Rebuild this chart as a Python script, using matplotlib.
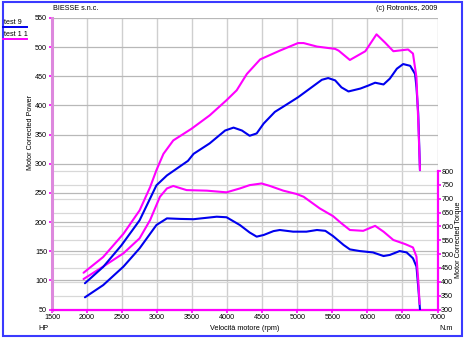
import matplotlib
matplotlib.use("Agg")
import matplotlib.pyplot as plt
from matplotlib.lines import Line2D
from matplotlib.patches import Rectangle

plt.rcParams['font.family'] = ['Liberation Sans', 'DejaVu Sans']

# ---- data -------------------------------------------------------------
rpm_power_t9 = [1970, 2230, 2490, 2750, 2990, 3140, 3260, 3440, 3520, 3750, 3970,
                4090, 4210, 4320, 4420, 4520, 4680, 4800, 5010, 5180, 5350, 5440,
                5540, 5630, 5730, 5900, 6010, 6110, 6230, 6320, 6420, 6510, 6610,
                6680, 6700, 6725, 6750]
power_t9 = [95, 123, 160, 203, 263, 280, 290, 305, 317, 335, 357,
            362, 357, 348, 352, 369, 389, 398, 414, 429, 444, 447,
            443, 431, 424, 429, 434, 439, 436, 446, 463, 471, 468,
            454, 431, 386, 289]

rpm_power_t11 = [1950, 2230, 2520, 2750, 2900, 2990, 3090, 3230, 3490, 3750, 3990,
                 4135, 4280, 4470, 4750, 5010, 5090, 5280, 5540, 5590, 5750, 5970,
                 6130, 6250, 6370, 6580, 6650, 6700, 6725, 6750]
power_t11 = [113, 140, 180, 220, 260, 289, 317, 340, 360, 383, 409,
             426, 454, 479, 494, 507, 507, 501, 497, 494, 478, 493,
             522, 508, 493, 496, 489, 448, 374, 289]

rpm_torque_t9 = [1970, 2230, 2520, 2750, 2990, 3140, 3330, 3520, 3850, 3990, 4180,
                 4320, 4420, 4520, 4660, 4750, 4940, 5130, 5280, 5400, 5510, 5660,
                 5750, 5890, 6080, 6230, 6320, 6460, 6560, 6650, 6700, 6725, 6750]
torque_t9 = [344, 388, 455, 521, 605, 629, 627, 626, 635, 633, 605,
             578, 563, 569, 583, 587, 581, 581, 587, 584, 565, 533,
             517, 511, 506, 493, 497, 511, 506, 485, 455, 382, 300]

rpm_torque_t11 = [1950, 2230, 2520, 2750, 2900, 3040, 3140, 3230, 3420, 3710, 3990,
                  4180, 4320, 4490, 4610, 4800, 4990, 5090, 5320, 5510, 5630, 5750,
                  5940, 6110, 6230, 6370, 6540, 6650, 6700, 6725, 6745]
torque_t11 = [410, 455, 503, 557, 623, 707, 737, 746, 731, 729, 723,
              737, 749, 755, 746, 729, 717, 707, 665, 637, 611, 587,
              584, 602, 581, 551, 536, 524, 491, 406, 320]

rpm_ticks = list(range(1500, 7001, 500))
hp_ticks = list(range(50, 551, 50))
nm_ticks = list(range(300, 801, 50))

series_names = ["test 9", "test 1 1"]
series_colors = ["#0000ee", "#ff00ff"]

title_left = "BIESSE s.n.c."
title_right = "(c) Rotronics, 2009"
x_label = "Velocità motore (rpm)"
y_label_left = "Motor Corrected Power"
y_label_right = "Motor Corrected Torque"

# ---- layout -------------------------------------------------------------
W, H = 465, 340
fig = plt.figure(figsize=(W / 100, H / 100), dpi=100)
fig.patch.set_facecolor("white")


def fx(px):
    return px / W


def fy(py):
    return 1 - py / H


x0, x1, ytop, ybot = 52, 437.5, 18, 309.5
ax = fig.add_axes([fx(x0), fy(ybot), fx(x1) - fx(x0), (ybot - ytop) / H])
ax2 = ax.twinx()

ax.set_xlim(1500, 7000)
ax.set_ylim(50, 550)
# torque scale occupies the lower part of the plot: 300..800 N.m
nm_top = 300 + 500 * (ybot - ytop) / (ybot - 171)
ax2.set_ylim(300, nm_top)

# grid
for r in rpm_ticks:
    ax.axvline(r, color="#cfcfcf", lw=1.0, zorder=0)
for h in hp_ticks:
    ax.axhline(h, color="#b8b8b8", lw=0.9, zorder=0)
for t in nm_ticks:
    ax.plot([1500, 7000], [t, t], transform=ax2.transData,
            color="#d8d8d8", lw=0.9, zorder=0, clip_on=False)

# curves
lw = 1.5
style = dict(lw=lw, zorder=3, solid_joinstyle="round", solid_capstyle="round")
ax.plot(rpm_torque_t9, torque_t9, color=series_colors[0],
        transform=ax2.transData, **style)
ax.plot(rpm_torque_t11, torque_t11, color=series_colors[1],
        transform=ax2.transData, **style)
ax.plot(rpm_power_t9, power_t9, color=series_colors[0], **style)
ax.plot(rpm_power_t11, power_t11, color=series_colors[1], **style)

# spines
for s in ["top", "right"]:
    ax.spines[s].set_visible(False)
ax.spines["left"].set_color("#dd88dd")
ax.spines["left"].set_linewidth(2.2)
ax.spines["bottom"].set_color("#ff00ff")
ax.spines["bottom"].set_linewidth(1.6)
for s in ["top", "left", "bottom"]:
    ax2.spines[s].set_visible(False)
ax2.spines["right"].set_color("#ff00ff")
ax2.spines["right"].set_linewidth(1.6)
ax2.spines["right"].set_bounds(300, 800)

# ticks
fs = 5.2
ax.set_xticks(rpm_ticks)
ax.set_xticklabels([str(r) for r in rpm_ticks])
ax.set_yticks(hp_ticks)
ax.set_yticklabels([str(h) for h in hp_ticks])
ax2.set_yticks(nm_ticks)
ax2.set_yticklabels([str(t) for t in nm_ticks])
ax.tick_params(axis="both", color="#ff00ff", length=2.5, width=1.2,
               labelsize=fs, pad=1.0)
ax2.tick_params(axis="y", color="#ff00ff", length=2.2, width=1.2,
                labelsize=fs, pad=0.5)

# labels
fig.text(fx(244.75), fy(328), x_label, fontsize=fs, ha="center", va="center")
fig.text(fx(43), fy(328), "HP", fontsize=fs, ha="center", va="center")
fig.text(fx(446), fy(328), "N.m", fontsize=fs, ha="center", va="center")
fig.text(fx(31), fy(132), y_label_left, fontsize=fs, ha="center", va="center",
         rotation=90)
fig.text(fx(458.5), fy(240), y_label_right, fontsize=fs, ha="center",
         va="center", rotation=90)
fig.text(fx(53), fy(8), title_left, fontsize=fs, ha="left", va="center")
fig.text(fx(437), fy(8), title_right, fontsize=fs, ha="right", va="center")

# legend entries in the top-left corner
for i, (name, col) in enumerate(zip(series_names, series_colors)):
    ty = 22 + i * 12.5
    fig.text(fx(4), fy(ty), name, fontsize=fs, ha="left", va="center")
    fig.add_artist(Line2D([fx(3), fx(26.5)], [fy(ty + 4.5), fy(ty + 4.5)],
                          color=col, lw=1.4, transform=fig.transFigure))

# frame around the whole picture
fig.add_artist(Rectangle((fx(2.5), fy(335.5)), fx(461.5) - fx(2.5),
                         fy(1.5) - fy(335.5), transform=fig.transFigure,
                         fill=False, edgecolor="#3a3aff", lw=1.5))

fig.savefig("out.png", dpi=100)
